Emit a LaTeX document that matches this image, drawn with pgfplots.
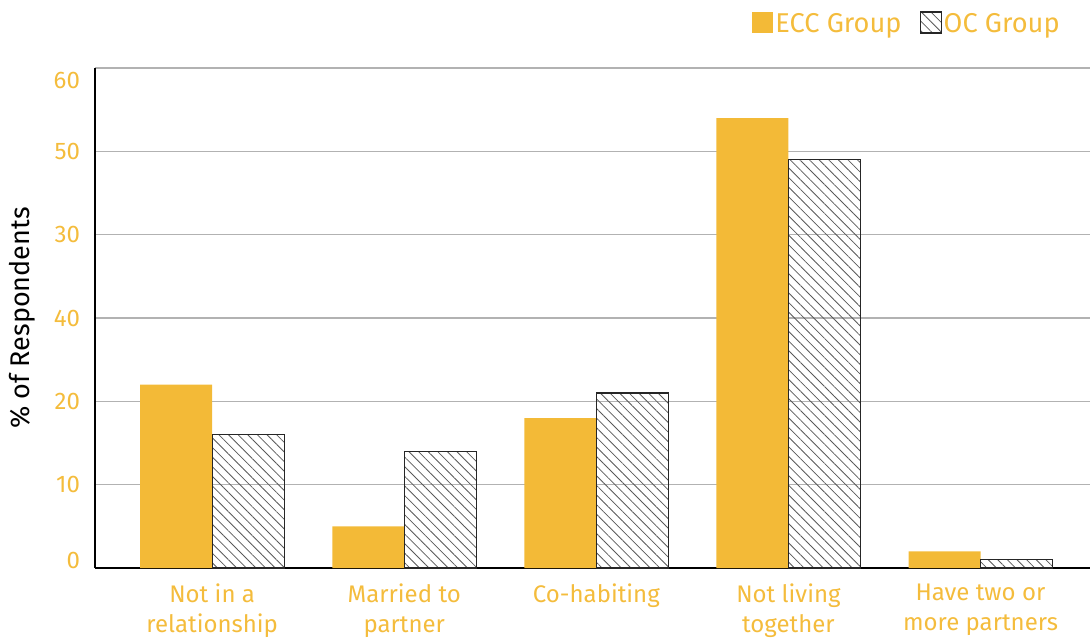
\documentclass[border=0pt]{standalone}
\usepackage{pgfplots}
\pgfplotsset{compat=1.18}
\usetikzlibrary{patterns.meta}
\usepackage{fontspec}
\setmainfont{Fira Sans}
\definecolor{ecc}{RGB}{243,186,55}
\definecolor{txt}{RGB}{244,188,60}
\begin{document}
\begin{tikzpicture}
\path[use as bounding box] (0,0) rectangle (545pt,319.5pt);
\begin{axis}[
  at={(47.5pt,35.5pt)}, anchor=south west,
  scale only axis, width=497.5pt, height=250pt,
  xmin=-0.61, xmax=4.57, ymin=0, ymax=60,
  ybar=0pt, bar width=36pt,
  axis x line*=bottom, axis y line*=left,
  axis line style={black, line width=0.9pt},
  ytick={0,10,20,30,40,50,60},
  yticklabels={,10,20,40,30,50,},
  extra y ticks={0.96,58.56},
  extra y tick labels={0,60},
  extra y tick style={grid=none},
  xtick={0,1,2,3,4},
  xticklabels={Not in a\\relationship, Married to\\partner, Co-habiting, Not living\\together, Have two or\\more partners},
  x tick label style={align=center, font=\fontsize{12}{15}\selectfont, text=txt, yshift=-4.5pt},
  y tick label style={font=\fontsize{12}{15}\selectfont, text=txt, xshift=-4pt},
  /pgf/number format/assume math mode=true,
  major tick length=0pt,
  ymajorgrids, grid style={gray!60, line width=0.6pt},
  ylabel={\% of Respondents},
  ylabel style={font=\fontsize{13.5}{15}\selectfont, text=black, yshift=2.5pt},
  legend columns=2,
  legend style={at={(0.978,1.088)}, anchor=east, draw=none, fill=none,
    font=\fontsize{13.6}{15}\selectfont, text=txt,
    nodes={inner sep=1pt},
    /tikz/every even column/.append style={column sep=8pt}},
  legend image code/.code={\path[#1] (0pt,-4.5pt) rectangle (10.5pt,6pt);},
  clip=false,
]
\addplot[fill=ecc, draw=none] coordinates {(0,22) (1,5) (2,18) (3,54) (4,2)};
\addplot[draw=black!85, line width=0.6pt, pattern={Lines[angle=-45,distance=3.4pt,line width=0.4pt]}, pattern color=black!65] coordinates {(0,16) (1,14) (2,21) (3,49) (4,1)};
\legend{ECC Group, OC Group}
\end{axis}
\end{tikzpicture}
\end{document}
